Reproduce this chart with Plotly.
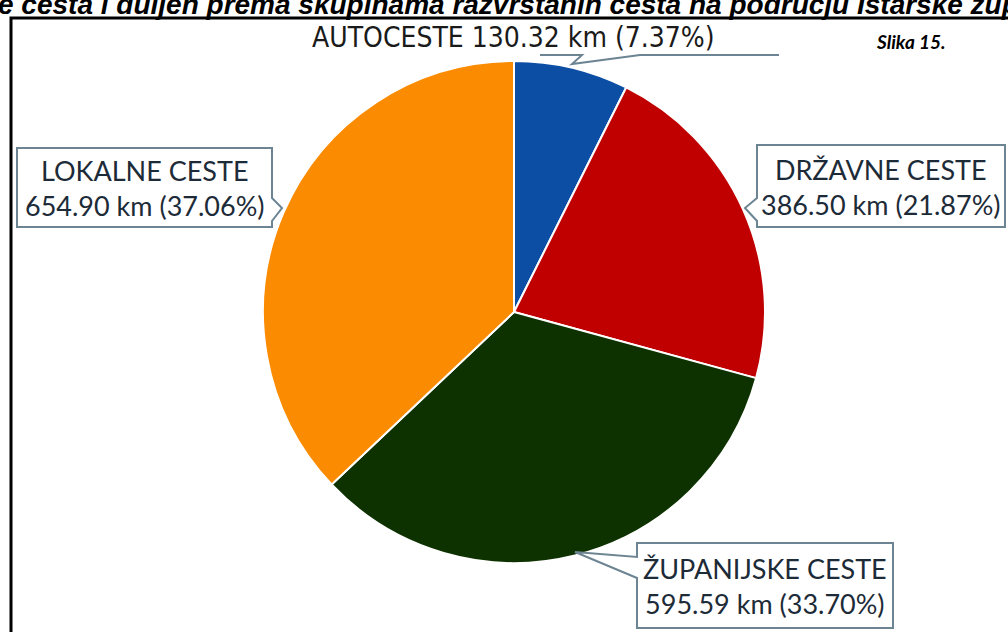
import plotly.graph_objects as go

# data
vrste = ['AUTOCESTE', 'DRŽAVNE CESTE', 'ŽUPANIJSKE CESTE', 'LOKALNE CESTE']
duljina_km = [130.32, 386.50, 595.59, 654.90]
postotak = [7.37, 21.87, 33.70, 37.06]
boje = ['#0b4ea4', '#c00000', '#0d3200', '#fb8b00']

W, H = 1008, 632

def px(x):
    return x / W

def py(y):
    return 1 - y / H

# pie centre and radius in pixels
cx, cy, r = 514, 312, 251

fig = go.Figure()

fig.add_trace(go.Pie(
    labels=vrste,
    values=duljina_km,
    sort=False,
    direction='clockwise',
    rotation=0,
    marker=dict(colors=boje, line=dict(color='white', width=2)),
    textinfo='none',
    hoverinfo='label+value+percent',
    showlegend=False,
    domain=dict(x=[px(cx - r), px(cx + r)], y=[py(cy + r), py(cy - r)])
))

# dummy axes for drawing callouts in pixel coords
fig.add_trace(go.Scatter(x=[0, W], y=[0, H], mode='markers',
                         marker=dict(opacity=0), hoverinfo='skip', showlegend=False))

okvir = '#6d8593'
oblici = [
    # lokalne
    'M17,148 L272,148 L272,198 L282,208 L272,221 L272,227 L17,227 Z',
    # drzavne
    'M757,145 L1005,145 L1005,227 L757,227 L757,221 L745,208 L757,198 Z',
    # zupanijske
    'M637,543 L893,543 L893,628 L637,628 L637,578 L575,552 L637,557 Z',
]
shapes = []
for p in oblici:
    shapes.append(dict(type='path', path=p, xref='x', yref='y',
                       line=dict(color=okvir, width=2), fillcolor='white', layer='above'))
# autoceste leader line
shapes.append(dict(type='path', path='M540,55 L582,55 L572,64 L640,55 L779,55',
                   xref='x', yref='y', line=dict(color=okvir, width=2)))
# outer black frame
shapes.append(dict(type='rect', x0=11, y0=18, x1=1040, y1=680, xref='x', yref='y',
                   line=dict(color='black', width=3)))

anns = []
tekst_boja = '#1d2b38'
polozaji = {
    'LOKALNE CESTE': (145, 188),
    'DRŽAVNE CESTE': (881, 187),
    'ŽUPANIJSKE CESTE': (765, 586),
}
for v, d, pc in zip(vrste, duljina_km, postotak):
    if v == 'AUTOCESTE':
        anns.append(dict(x=513, y=37, xref='x', yref='y', showarrow=False,
                         text=f'{v} {d:.2f} km ({pc:.2f}%)',
                         font=dict(family='Liberation Sans Narrow, DejaVu Sans Condensed, Liberation Sans',
                                   size=28, color='#1a1a1a')))
    else:
        x, y = polozaji[v]
        anns.append(dict(x=x, y=y, xref='x', yref='y', showarrow=False,
                         text=f'{v}<br>{d:.2f} km ({pc:.2f}%)',
                         font=dict(family='Lato', size=27, color=tekst_boja)))

anns.append(dict(x=911, y=41, xref='x', yref='y', showarrow=False,
                 text='<b><i>Slika 15.</i></b>',
                 font=dict(family='Lato', size=19, color='black')))
# cut-off title at the very top
anns.append(dict(x=px(-4), y=py(4), xref='paper', yref='paper', showarrow=False,
                 xanchor='left', yanchor='middle',
                 text='<b><i>e cesta i duljen prema skupinama razvrstanih cesta na području Istarske županije</i></b>',
                 font=dict(family='Liberation Sans', size=28, color='black')))

fig.update_layout(
    width=W, height=H,
    margin=dict(l=0, r=0, t=0, b=0),
    paper_bgcolor='white', plot_bgcolor='white',
    xaxis=dict(range=[0, W], visible=False, fixedrange=True),
    yaxis=dict(range=[H, 0], visible=False, fixedrange=True),
    shapes=shapes, annotations=anns
)

fig.write_html('out.html', config={'displayModeBar': False},
               post_script="document.body.style.margin='0';")
